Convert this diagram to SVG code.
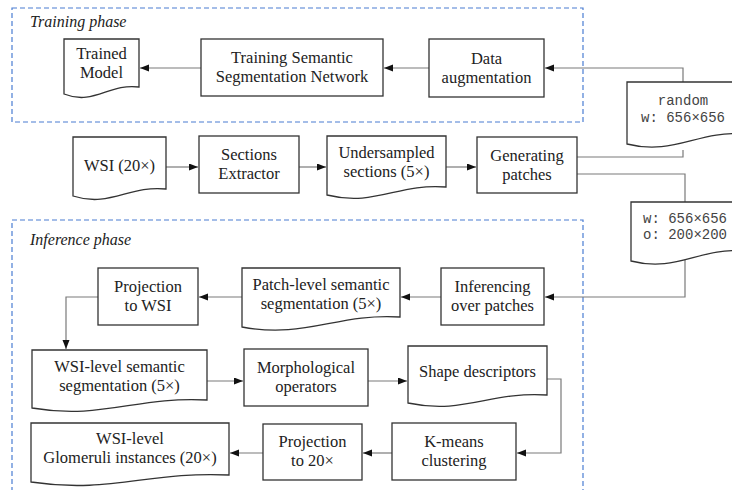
<svg xmlns="http://www.w3.org/2000/svg" width="732" height="490" viewBox="0 0 732 490">
<defs>
<marker id="ah" markerUnits="userSpaceOnUse" markerWidth="10" markerHeight="8" refX="9" refY="3.5" orient="auto">
<path d="M0,0 L9,3.5 L0,7 Z" fill="#111"/>
</marker>
</defs>
<style>
.phase{fill:none;stroke:#4a7dd2;stroke-width:1.2;stroke-dasharray:5 3}
.ptitle{font-family:"Liberation Serif","Times New Roman",serif;font-style:italic;font-size:16px;fill:#222}
.box{fill:#fff;stroke:#333;stroke-width:1.3}
.t{font-family:"Liberation Serif","Times New Roman",serif;font-size:16.5px;fill:#222;text-anchor:middle}
.m{font-family:"Liberation Mono","Courier New",monospace;font-size:14px;fill:#444}
.c{fill:none;stroke:#7a7a7a;stroke-width:1.2}
.a{marker-end:url(#ah)}
</style>
<rect class="phase" x="12" y="8" width="571" height="114"/>
<text class="ptitle" x="30" y="27">Training phase</text>
<rect class="phase" x="12" y="220" width="571" height="285"/>
<text class="ptitle" x="30" y="245">Inference phase</text>
<g id="connectors">
<path class="c a" d="M201,68 H140"/>
<path class="c a" d="M429,68 H384"/>
<path class="c a" d="M683,90 V68 H545"/>
<path class="c a" d="M166,167 H198"/>
<path class="c a" d="M299,167 H326"/>
<path class="c a" d="M446,167 H476"/>
<path class="c" d="M577,157 H683 V150"/>
<path class="c" d="M577,174 H685 V210"/>
<path class="c a" d="M685,255 V297 H545"/>
<path class="c a" d="M441,297 H401"/>
<path class="c a" d="M242,297 H199"/>
<path class="c a" d="M98,297 H66 V349"/>
<path class="c a" d="M207,381 H243"/>
<path class="c a" d="M368,381 H407"/>
<path class="c a" d="M547,379 H561 V453 H517"/>
<path class="c a" d="M392,453 H363"/>
<path class="c a" d="M263,453 H230"/>
</g>
<g id="trained-model">
<path class="box" d="M64,39 H139 V87 C109,83 94,106 64,94 Z"/>
<text class="t" x="101.5" y="59">Trained</text>
<text class="t" x="101.5" y="78">Model</text>
</g>
<g id="training-network">
<rect class="box" x="201" y="39" width="182" height="57"/>
<text class="t" x="292" y="63">Training Semantic</text>
<text class="t" x="292" y="82">Segmentation Network</text>
</g>
<g id="data-augmentation">
<rect class="box" x="429" y="39" width="115" height="58"/>
<text class="t" x="486.5" y="64">Data</text>
<text class="t" x="486.5" y="83">augmentation</text>
</g>
<g id="random-params">
<path class="box" d="M627,82 H745 V134 C698,130 674,156 627,144 Z"/>
<text class="m" x="683" y="105" text-anchor="middle">random</text>
<text class="m" x="683" y="122" text-anchor="middle">w: 656×656</text>
</g>
<g id="wsi">
<path class="box" d="M73,137 H166 V189 C129,185 110,208 73,196 Z"/>
<text class="t" x="119.5" y="171">WSI (20×)</text>
</g>
<g id="sections-extractor">
<rect class="box" x="199" y="136" width="100" height="57"/>
<text class="t" x="249" y="160">Sections</text>
<text class="t" x="249" y="179">Extractor</text>
</g>
<g id="undersampled">
<path class="box" d="M327,136 H446 V187 C398,183 375,207 327,195 Z"/>
<text class="t" x="386.5" y="158">Undersampled</text>
<text class="t" x="386.5" y="177">sections (5×)</text>
</g>
<g id="generating-patches">
<rect class="box" x="477" y="137" width="100" height="56"/>
<text class="t" x="527" y="161">Generating</text>
<text class="t" x="527" y="180">patches</text>
</g>
<g id="patch-params">
<path class="box" d="M631,202 H745 V251 C699,247 677,273 631,261 Z"/>
<text class="m" x="643" y="223">w: 656×656</text>
<text class="m" x="643" y="239">o: 200×200</text>
</g>
<g id="inferencing">
<rect class="box" x="441" y="268" width="103" height="57"/>
<text class="t" x="492.5" y="292">Inferencing</text>
<text class="t" x="492.5" y="311">over patches</text>
</g>
<g id="patch-level">
<path class="box" d="M242,268 H400 V317 C337,313 305,339 242,327 Z"/>
<text class="t" x="321" y="290">Patch-level semantic</text>
<text class="t" x="321" y="309">segmentation (5×)</text>
</g>
<g id="projection-wsi">
<rect class="box" x="98" y="268" width="100" height="57"/>
<text class="t" x="148" y="292">Projection</text>
<text class="t" x="148" y="311">to WSI</text>
</g>
<g id="wsi-level-semantic">
<path class="box" d="M32,350 H207 V400 C137,396 102,420 32,408 Z"/>
<text class="t" x="119.5" y="372">WSI-level semantic</text>
<text class="t" x="119.5" y="391">segmentation (5×)</text>
</g>
<g id="morphological">
<rect class="box" x="244" y="349" width="124" height="57"/>
<text class="t" x="306" y="373">Morphological</text>
<text class="t" x="306" y="392">operators</text>
</g>
<g id="shape-descriptors">
<path class="box" d="M408,346 H547 V395 C491,391 464,415 408,403 Z"/>
<text class="t" x="477.5" y="377">Shape descriptors</text>
</g>
<g id="kmeans">
<rect class="box" x="392" y="423" width="124" height="57"/>
<text class="t" x="454" y="447">K-means</text>
<text class="t" x="454" y="466">clustering</text>
</g>
<g id="projection-20x">
<rect class="box" x="263" y="424" width="99" height="56"/>
<text class="t" x="312.5" y="447">Projection</text>
<text class="t" x="312.5" y="466">to 20×</text>
</g>
<g id="glomeruli-instances">
<path class="box" d="M31,423 H229 V475 C150,471 110,494 31,482 Z"/>
<text class="t" x="130" y="444">WSI-level</text>
<text class="t" x="130" y="463">Glomeruli instances (20×)</text>
</g>
</svg>
